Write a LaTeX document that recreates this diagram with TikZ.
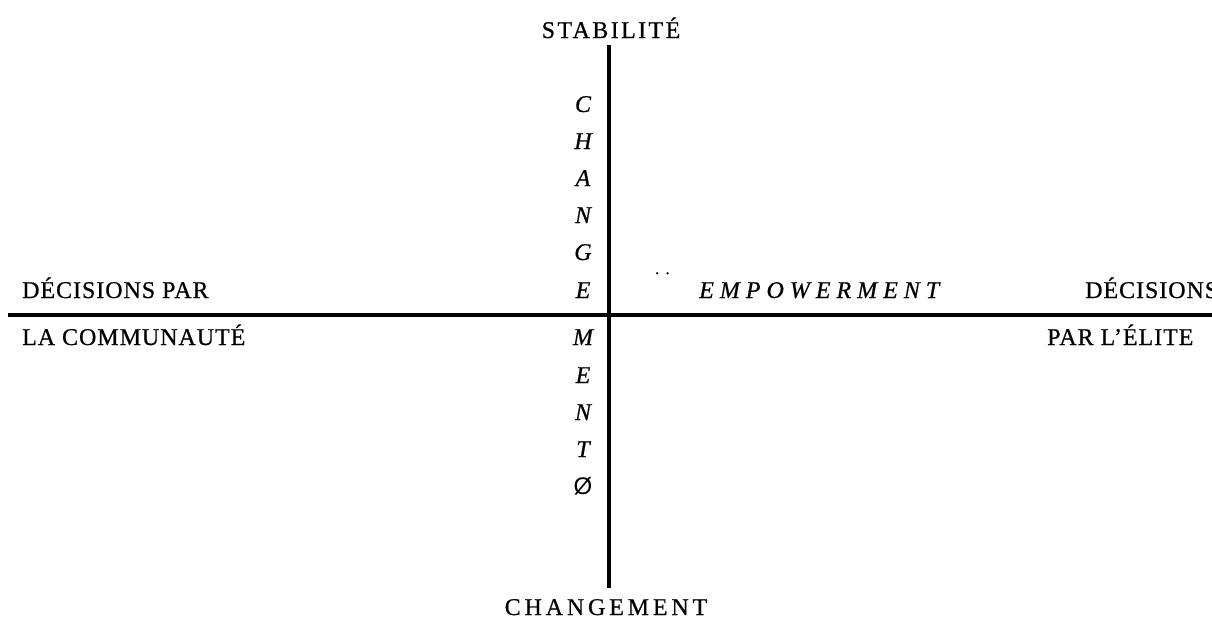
\documentclass[tikz,border=0pt]{standalone}
\usepackage{fontspec}
\setmainfont[FakeBold=0.6]{Liberation Serif}
\newfontfamily\osans{Liberation Sans}
\begin{document}
\begin{tikzpicture}[x=1pt,y=-1pt,
  axis/.style={line width=4.5pt},
  lbl/.style={inner sep=0pt, anchor=base west, font=\fontsize{24}{28}\selectfont\addfontfeature{LetterSpace=4}},
  ttl/.style={inner sep=0pt, anchor=base, font=\fontsize{24}{28}\selectfont\addfontfeature{LetterSpace=#1}},
  col/.style={inner sep=0pt, anchor=base, font=\fontsize{24}{28}\selectfont\itshape},
  emp/.style={inner sep=0pt, anchor=base west, font=\fontsize{24}{28}\selectfont\itshape\addfontfeature{LetterSpace=25}}]
\useasboundingbox (0,0) rectangle (1212,621);
\coordinate (vtop) at (609,45);
\coordinate (vbot) at (609,588);
\coordinate (hl) at (8,315);
\coordinate (hr) at (1212,315);
\draw[axis] (vtop) -- (vbot);
\draw[axis] (hl) -- (hr);
\node[ttl=10] (stab) at (611,38) {STABILITÉ};
\node[ttl=16] (chg) at (606,615) {CHANGEMENT};
\node[col] (c1) at (583,112) {C};
\node[col] (c2) at (583,149) {H};
\node[col] (c3) at (583,186) {A};
\node[col] (c4) at (583,223) {N};
\node[col] (c5) at (583,260) {G};
\node[col] (c6) at (583,298) {E};
\node[col] (c7) at (583,345) {M};
\node[col] (c8) at (583,383) {E};
\node[col] (c9) at (583,420) {N};
\node[col] (c10) at (583,457) {T};
\node[inner sep=0pt, anchor=base, font=\fontsize{24}{28}\selectfont\osans] (c11) at (583,494) {Ø};
\node[inner sep=0pt, anchor=base west, font=\fontsize{16}{18}\selectfont\addfontfeature{LetterSpace=40}] (dots) at (655,274) {..};
\node[emp] (empw) at (699,298) {EMPOWERMENT};
\node[lbl] (dl) at (22,298) {DÉCISIONS PAR};
\node[lbl] (lc) at (22,345) {LA COMMUNAUTÉ};
\node[lbl] (dr) at (1085,298) {DÉCISIONS};
\node[lbl] (pe) at (1047,345) {PAR L’ÉLITE};
\end{tikzpicture}
\end{document}
